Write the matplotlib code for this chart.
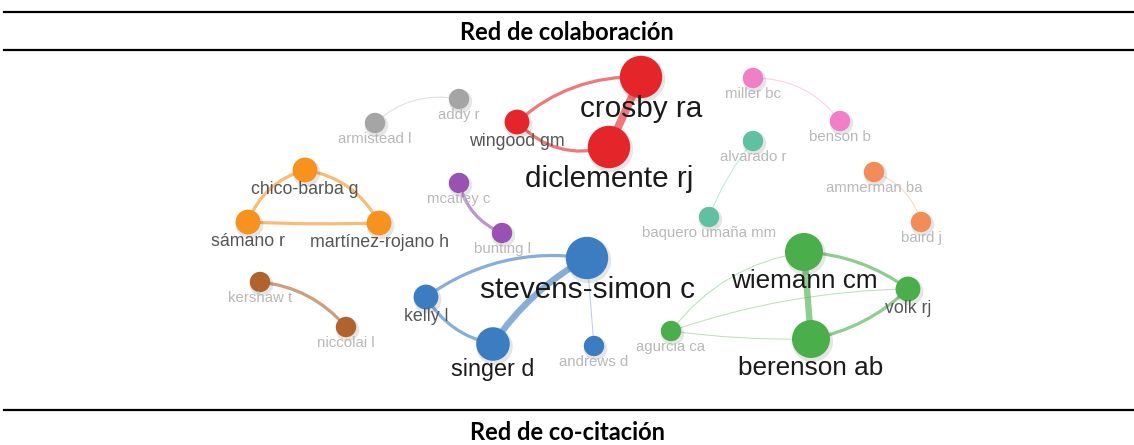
import matplotlib
matplotlib.use('Agg')
import matplotlib.pyplot as plt
from matplotlib.patches import FancyArrowPatch

# nodos del mapa (coordenadas del mapa, documentos y cluster)
autores = ['crosby ra', 'diclemente rj', 'wingood gm', 'addy r', 'armistead l',
           'chico-barba g', 'sámano r', 'martínez-rojano h', 'mcatley c', 'bunting l',
           'miller bc', 'benson b', 'alvarado r', 'baquero umaña mm', 'ammerman ba',
           'baird j', 'kershaw t', 'niccolai l', 'stevens-simon c', 'kelly l',
           'singer d', 'andrews d', 'wiemann cm', 'volk rj', 'berenson ab', 'agurcia ca']
map_x = [641, 609, 517, 459, 375, 305, 248, 379, 459, 502,
         753, 840, 753, 709, 874, 921, 260, 346, 587, 426,
         493, 594, 804, 908, 811, 671]
map_y = [77, 147, 122, 99, 123, 170, 222, 223, 183, 233,
         78, 121, 141, 217, 172, 222, 282, 327, 258, 297,
         344, 346, 252, 289, 339, 331]
documentos = [6, 6, 2, 1, 1, 2, 2, 2, 1, 1,
              1, 1, 1, 1, 1, 1, 1, 1, 6, 2,
              4, 1, 5, 2, 5, 1]
cluster = ['red', 'red', 'red', 'gray', 'gray', 'orange', 'orange', 'orange', 'purple', 'purple',
           'pink', 'pink', 'teal', 'teal', 'salmon', 'salmon', 'brown', 'brown', 'blue', 'blue',
           'blue', 'blue', 'green', 'green', 'green', 'green']

# enlaces de coautoría: origen, destino, fuerza
enlace_origen = ['crosby ra', 'wingood gm', 'wingood gm', 'armistead l', 'sámano r',
                 'chico-barba g', 'sámano r', 'mcatley c', 'miller bc', 'alvarado r',
                 'ammerman ba', 'kershaw t', 'kelly l', 'singer d', 'kelly l',
                 'stevens-simon c', 'agurcia ca', 'agurcia ca', 'agurcia ca', 'wiemann cm',
                 'berenson ab', 'wiemann cm']
enlace_destino = ['diclemente rj', 'crosby ra', 'diclemente rj', 'addy r', 'chico-barba g',
                  'martínez-rojano h', 'martínez-rojano h', 'bunting l', 'benson b', 'baquero umaña mm',
                  'baird j', 'niccolai l', 'stevens-simon c', 'stevens-simon c', 'singer d',
                  'andrews d', 'wiemann cm', 'volk rj', 'berenson ab', 'volk rj',
                  'volk rj', 'berenson ab']
enlace_fuerza = [5, 2, 2, 1, 2,
                 2, 2, 2, 1, 1,
                 1, 2, 2, 4, 2,
                 1, 1, 1, 1, 2,
                 2, 4]

colores = {'red': '#e4262b', 'gray': '#a5a5a5', 'orange': '#f7921f', 'purple': '#9a52b2',
           'pink': '#ef80c6', 'teal': '#62c0a2', 'salmon': '#f28d5a', 'brown': '#b1632d',
           'blue': '#3c7dc2', 'green': '#4aae4a'}
# curvatura de cada enlace (estilo VOSviewer)
curva = [0, -0.2, 0.3, -0.25, -0.25, -0.25, 0.02, 0.25, -0.25, 0.08,
         -0.25, -0.2, -0.2, -0.12, 0.22, 0, -0.2, -0.08, 0.04, -0.15, 0.15, 0]

fig = plt.figure(figsize=(11.34, 4.45), dpi=100)
ax = fig.add_axes([0, 0, 1, 1])
ax.set_xlim(0, 1134)
ax.set_ylim(445, 0)
ax.axis('off')

idx = {n: i for i, n in enumerate(autores)}
radio = [8 + 2.2 * d for d in documentos]

for o, d, w, rad in zip(enlace_origen, enlace_destino, enlace_fuerza, curva):
    i, j = idx[o], idx[d]
    col = colores[cluster[i]]
    lw_px = 1.0 if w == 1 else 1.6 * w
    alpha = 0.38 if w == 1 else 0.62
    p = FancyArrowPatch((map_x[i], map_y[i]), (map_x[j], map_y[j]),
                        arrowstyle='-', connectionstyle=f'arc3,rad={rad}',
                        color=col, lw=lw_px * 0.72, alpha=alpha,
                        shrinkA=0, shrinkB=0, zorder=1, capstyle='round')
    ax.add_patch(p)

sizes = [(2 * r * 0.72) ** 2 for r in radio]
shadow = [(2 * (r + 1.5) * 0.72) ** 2 for r in radio]
ax.scatter([x + 1.5 for x in map_x], [y + 2.5 for y in map_y], s=shadow,
           color='k', alpha=0.10, lw=0, zorder=2)
ax.scatter(map_x, map_y, s=sizes, c=[colores[c] for c in cluster], lw=0, zorder=3)

for n, x, y, d, r in zip(autores, map_x, map_y, documentos, radio):
    fs = 8.8 + 2.0 * d + (0.6 if d >= 6 else 0)
    if d >= 4:
        col = '#1a1a1a'
    elif d == 2:
        col = '#555555'
    else:
        col = '#b8b8b8'
    off = 0.55 * r + 0.70 * fs * 100 / 72
    ax.text(x, y + off, n, ha='center', va='center', fontsize=fs, color=col,
            family='Liberation Sans', zorder=4)

# encabezados de tabla
for yy in [12, 50, 410]:
    ax.plot([4, 1134], [yy, yy], color='black', lw=1.6, zorder=5)
ax.text(567, 32, 'Red de colaboración', ha='center', va='center', fontsize=17,
        fontweight='bold', family='Lato')
ax.text(567, 432, 'Red de co-citación', ha='center', va='center', fontsize=17,
        fontweight='bold', family='Lato')

fig.savefig('out.png', dpi=100)
